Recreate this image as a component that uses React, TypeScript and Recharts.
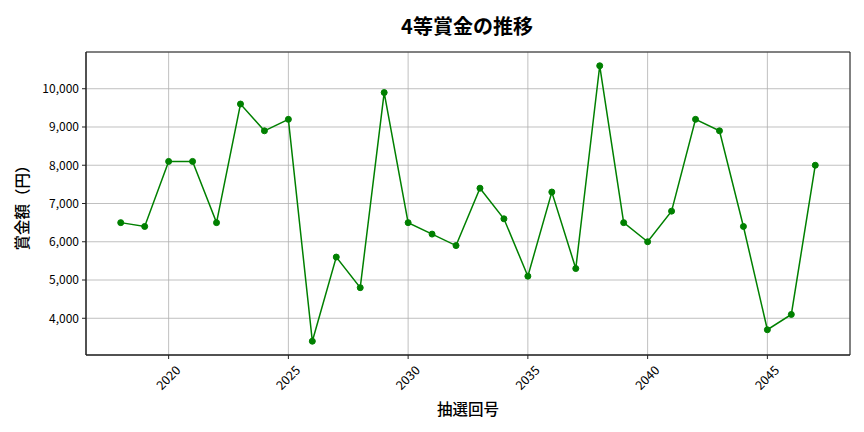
import React from "react";
import {
  CartesianGrid,
  Line,
  LineChart,
  ReferenceArea,
  XAxis,
  YAxis,
} from "recharts";

const years = [
  2018, 2019, 2020, 2021, 2022, 2023, 2024, 2025, 2026, 2027,
  2028, 2029, 2030, 2031, 2032, 2033, 2034, 2035, 2036, 2037,
  2038, 2039, 2040, 2041, 2042, 2043, 2044, 2045, 2046, 2047,
];

const prizes = [
  6500, 6400, 8100, 8100, 6500, 9600, 8900, 9200, 3400, 5600,
  4800, 9900, 6500, 6200, 5900, 7400, 6600, 5100, 7300, 5300,
  10600, 6500, 6000, 6800, 9200, 8900, 6400, 3700, 4100, 8000,
];

const xTicks = [2020, 2025, 2030, 2035, 2040, 2045];
const yTicks = [4000, 5000, 6000, 7000, 8000, 9000, 10000];

const xDomain: [number, number] = [2016.55, 2048.45];
const yDomain: [number, number] = [3040, 10960];

const data = years.map((year, i) => ({ year, prize: prizes[i] }));

const FONT = '"Noto Sans CJK JP", "Noto Sans", sans-serif';

const XTick = (props: any) => {
  const { x, y, payload } = props;
  return (
    <g transform={`translate(${x - 1},${y + 18})`}>
      <text
        transform="rotate(-45)"
        textAnchor="middle"
        dominantBaseline="central"
        fontSize={12.5}
        fontFamily={FONT}
        fill="#000"
      >
        {payload.value}
      </text>
    </g>
  );
};

export default function App() {
  return (
    <div style={{ position: "absolute", left: 0, top: 0, background: "#fff" }}>
      <LineChart
        width={864}
        height={432}
        data={data}
        margin={{ top: 52, right: 14, bottom: 0, left: 0 }}
        style={{ fontFamily: FONT }}
      >
        <text
          x={467}
          y={25}
          textAnchor="middle"
          dominantBaseline="central"
          fontSize={20}
          fontWeight="bold"
          fontFamily={FONT}
          fill="#000"
        >
          4等賞金の推移
        </text>
        <text
          x={468}
          y={408}
          textAnchor="middle"
          dominantBaseline="central"
          fontSize={15.5}
          fontWeight={500}
          fontFamily={FONT}
          fill="#000"
        >
          抽選回号
        </text>
        <text
          transform="translate(21,204) rotate(-90)"
          textAnchor="middle"
          dominantBaseline="central"
          fontSize={15.5}
          fontWeight={500}
          fontFamily={FONT}
          fill="#000"
        >
          賞金額（円）
        </text>
        <CartesianGrid stroke="#b0b0b0" strokeWidth={0.8} />
        <XAxis
          dataKey="year"
          type="number"
          domain={xDomain}
          ticks={xTicks}
          allowDataOverflow
          height={77}
          tickSize={4}
          tickMargin={0}
          tick={<XTick />}
          axisLine={{ stroke: "#222", strokeWidth: 1 }}
          tickLine={{ stroke: "#222" }}
        />
        <YAxis
          type="number"
          domain={yDomain}
          ticks={yTicks}
          allowDataOverflow
          width={86}
          tickSize={4}
          tickMargin={3}
          tickFormatter={(v: number) => v.toLocaleString("en-US")}
          tick={{ fontSize: 12, fill: "#000", fontFamily: FONT }}
          axisLine={{ stroke: "#222", strokeWidth: 1 }}
          tickLine={{ stroke: "#222" }}
        />
        <ReferenceArea
          x1={xDomain[0]}
          x2={xDomain[1]}
          y1={yDomain[0]}
          y2={yDomain[1]}
          fill="none"
          stroke="#222"
          strokeWidth={1}
          fillOpacity={0}
        />
        <Line
          type="linear"
          dataKey="prize"
          stroke="#008000"
          strokeWidth={1.5}
          dot={{ r: 3, fill: "#008000", stroke: "#008000", strokeWidth: 1 }}
          activeDot={false}
          isAnimationActive={false}
        />
      </LineChart>
    </div>
  );
}
